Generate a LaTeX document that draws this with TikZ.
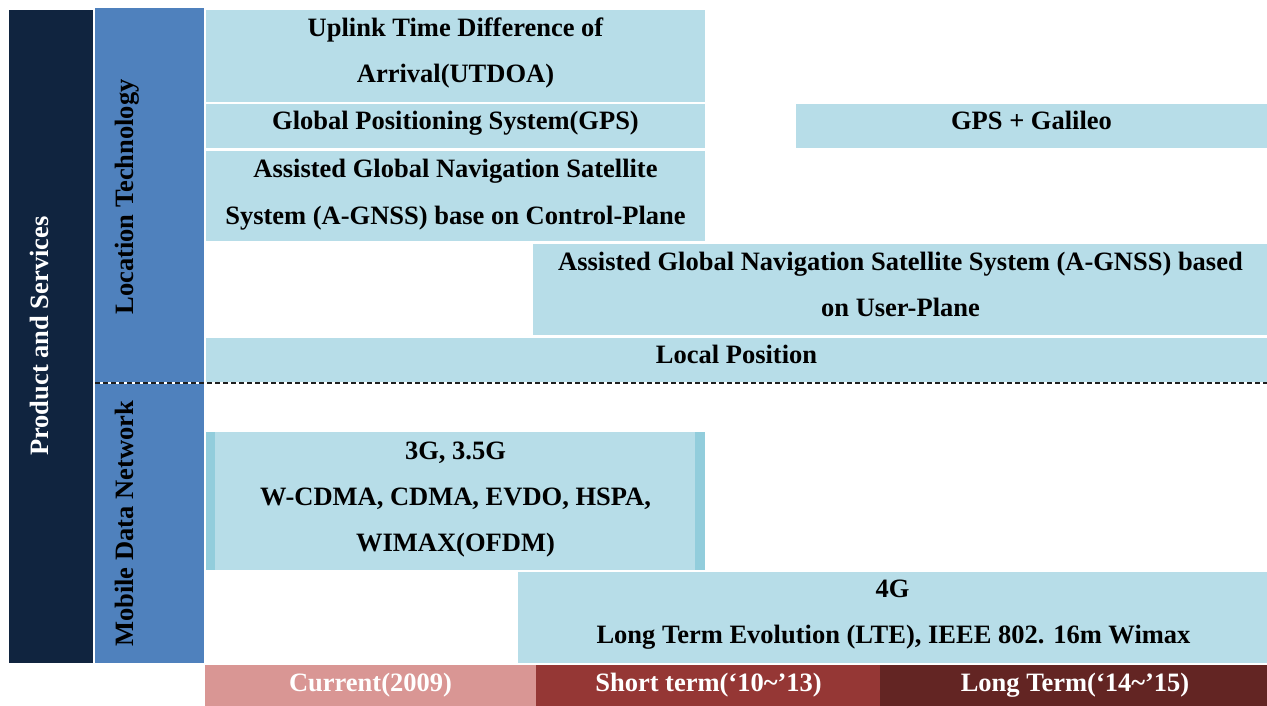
\documentclass[tikz,border=0pt]{standalone}
\usepackage{fontspec}
\setmainfont{Liberation Serif}
\definecolor{navy}{HTML}{10243F}
\definecolor{midblue}{HTML}{4F81BD}
\definecolor{lb}{HTML}{B7DDE8}
\definecolor{stripe}{HTML}{92CDDC}
\definecolor{curc}{HTML}{D99694}
\definecolor{shortc}{HTML}{953735}
\definecolor{longc}{HTML}{632523}
\definecolor{dashc}{HTML}{1F1F1F}
\tikzset{
  lbl/.style={font=\bfseries\fontsize{26.5}{46}\selectfont, inner sep=0pt, anchor=base},
  wlbl/.style={lbl, text=white},
  vlbl/.style={lbl, rotate=90},
}
\begin{document}
\begin{tikzpicture}[x=1pt,y=-1pt]
\useasboundingbox (0,0) rectangle (1267,706);
% side columns
\fill[navy] (9,10) rectangle (93,663);
\fill[midblue] (95,8) rectangle (204,663);
% location technology boxes
\fill[lb] (206,10) rectangle (705,102);
\fill[lb] (206,104) rectangle (705,148);
\fill[lb] (796,104) rectangle (1267,148);
\fill[lb] (206,151) rectangle (705,241);
\fill[lb] (533,244) rectangle (1267,335);
\fill[lb] (206,338) rectangle (1267,383);
% separator
\draw[white, line width=1.5pt] (95,383) -- (1267,383);
\draw[dashc, line width=1.5pt, dash pattern=on 5pt off 3pt] (95,383) -- (1267,383);
% mobile data network boxes
\fill[lb] (206,432) rectangle (705,570);
\fill[stripe] (206,432) rectangle (215,570);
\fill[stripe] (695,432) rectangle (705,570);
\fill[lb] (518,572) rectangle (1267,663);
% time axis
\fill[curc] (205,665) rectangle (536,706);
\fill[shortc] (536,665) rectangle (880,706);
\fill[longc] (880,665) rectangle (1267,706);

% texts
\node[vlbl, text=white] (ps) at (48,336) {Product and Services};
\node[vlbl] (lt) at (133,197) {Location Technology};
\node[vlbl] (mdn) at (133,524) {Mobile Data Network};

\node[lbl] (utdoa1) at (455.5,37) {Uplink Time Difference of};
\node[lbl] (utdoa2) at (455.5,83) {Arrival(UTDOA)};
\node[lbl] (gps) at (455.5,130) {Global Positioning System(GPS)};
\node[lbl] (gal) at (1031.5,130) {GPS + Galileo};
\node[lbl] (cp1) at (455.5,178) {Assisted Global Navigation Satellite};
\node[lbl] (cp2) at (455.5,224) {System (A-GNSS) base on Control-Plane};
\node[lbl] (up1) at (900.5,270) {Assisted Global Navigation Satellite System (A-GNSS) based};
\node[lbl] (up2) at (900.5,316) {on User-Plane};
\node[lbl] (lp) at (736.5,363) {Local Position};

\node[lbl] (g3a) at (455.5,459) {3G, 3.5G};
\node[lbl] (g3b) at (455.5,505) {W-CDMA, CDMA, EVDO, HSPA,};
\node[lbl] (g3c) at (455.5,551) {WIMAX(OFDM)};
\node[lbl] (g4a) at (892.5,597) {4G};
\node[lbl] (g4b) at (893.5,643) {Long Term Evolution (LTE), IEEE 802. 16m Wimax};

\node[wlbl] (cur) at (370.5,691) {Current(2009)};
\node[wlbl] (short) at (708.5,691) {Short term(‘10\textasciitilde’13)};
\node[wlbl] (long) at (1075,691) {Long Term(‘14\textasciitilde’15)};
\end{tikzpicture}
\end{document}
